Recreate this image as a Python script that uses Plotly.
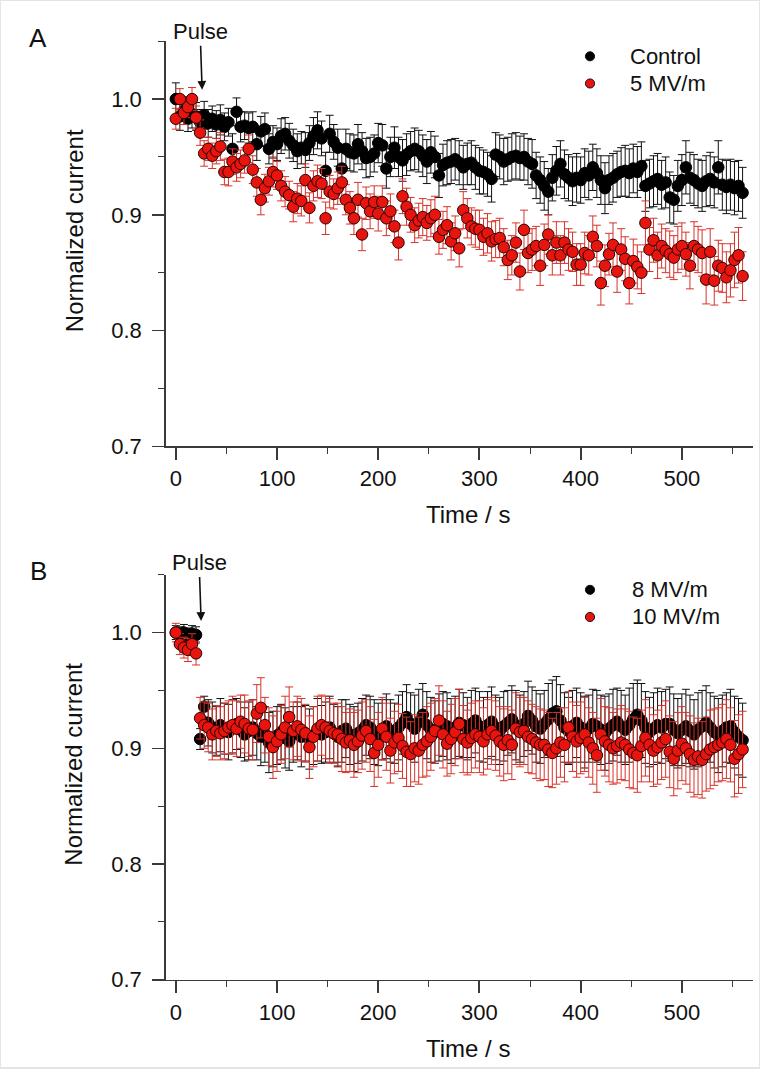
import plotly.graph_objects as go

# ---------------- data (time in s, sampled every 4 s) ----------------
TIME = list(range(0, 561, 4))

CONTROL = [
    1.000, 0.985, 0.990, 0.983, 0.987, 0.985, 0.980, 0.986, 0.979, 0.983,
    0.978, 0.982, 0.976, 0.980, 0.957, 0.989, 0.976, 0.977, 0.975, 0.976,
    0.961, 0.972, 0.974, 0.957, 0.963, 0.961, 0.968, 0.970, 0.964, 0.960,
    0.955, 0.958, 0.956, 0.962, 0.968, 0.973, 0.966, 0.938, 0.970, 0.963,
    0.958, 0.940, 0.957, 0.954, 0.953, 0.961, 0.955, 0.949, 0.950, 0.953,
    0.962, 0.960, 0.940, 0.950, 0.958, 0.950, 0.947, 0.952, 0.955, 0.957,
    0.955, 0.951, 0.946, 0.954, 0.950, 0.934, 0.943, 0.945, 0.946, 0.948,
    0.945, 0.941, 0.944, 0.945, 0.941, 0.938, 0.937, 0.935, 0.931, 0.952,
    0.950, 0.946, 0.948, 0.950, 0.951, 0.949, 0.950, 0.946, 0.944, 0.934,
    0.930, 0.925, 0.920, 0.932, 0.938, 0.944, 0.935, 0.932, 0.929, 0.932,
    0.930, 0.936, 0.934, 0.941, 0.936, 0.930, 0.923, 0.930, 0.932, 0.935,
    0.937, 0.938, 0.936, 0.940, 0.937, 0.942, 0.925, 0.927, 0.929, 0.931,
    0.926, 0.928, 0.915, 0.913, 0.925, 0.930, 0.941, 0.932, 0.930, 0.927,
    0.925, 0.929, 0.931, 0.928, 0.941, 0.926, 0.924, 0.926, 0.923, 0.925,
    0.919,
]
CONTROL_ERR = [
    0.014, 0.012, 0.012, 0.011, 0.012, 0.012, 0.011, 0.012, 0.012, 0.011,
    0.012, 0.013, 0.012, 0.012, 0.013, 0.012, 0.013, 0.012, 0.013, 0.013,
    0.014, 0.013, 0.014, 0.013, 0.014, 0.014, 0.015, 0.014, 0.015, 0.014,
    0.015, 0.014, 0.015, 0.015, 0.016, 0.016, 0.015, 0.016, 0.016, 0.015,
    0.016, 0.016, 0.017, 0.016, 0.016, 0.017, 0.016, 0.017, 0.017, 0.016,
    0.017, 0.018, 0.017, 0.017, 0.018, 0.017, 0.018, 0.018, 0.017, 0.018,
    0.018, 0.018, 0.019, 0.018, 0.018, 0.019, 0.018, 0.019, 0.019, 0.018,
    0.019, 0.019, 0.018, 0.019, 0.019, 0.020, 0.019, 0.019, 0.020, 0.019,
    0.019, 0.020, 0.019, 0.020, 0.020, 0.019, 0.020, 0.020, 0.021, 0.020,
    0.020, 0.021, 0.020, 0.020, 0.021, 0.020, 0.021, 0.020, 0.021, 0.021,
    0.020, 0.021, 0.021, 0.020, 0.021, 0.021, 0.022, 0.021, 0.021, 0.020,
    0.021, 0.022, 0.021, 0.021, 0.022, 0.021, 0.022, 0.021, 0.022, 0.022,
    0.021, 0.022, 0.022, 0.021, 0.022, 0.022, 0.023, 0.022, 0.022, 0.021,
    0.022, 0.022, 0.023, 0.022, 0.023, 0.022, 0.023, 0.022, 0.023, 0.022,
    0.022,
]

MV5 = [
    0.983, 1.000, 0.988, 0.993, 1.000, 0.984, 0.971, 0.953, 0.957, 0.951,
    0.955, 0.959, 0.937, 0.937, 0.946, 0.941, 0.944, 0.947, 0.957, 0.939,
    0.928, 0.913, 0.923, 0.929, 0.937, 0.934, 0.925, 0.920, 0.917, 0.907,
    0.914, 0.912, 0.930, 0.906, 0.925, 0.929, 0.927, 0.897, 0.920, 0.918,
    0.923, 0.928, 0.913, 0.906, 0.897, 0.913, 0.883, 0.910, 0.903, 0.911,
    0.901, 0.911, 0.897, 0.903, 0.890, 0.876, 0.916, 0.907, 0.900, 0.891,
    0.895, 0.898, 0.893, 0.897, 0.900, 0.881, 0.887, 0.891, 0.877, 0.884,
    0.871, 0.904, 0.897, 0.890, 0.888, 0.887, 0.881, 0.884, 0.877, 0.879,
    0.880, 0.872, 0.861, 0.865, 0.876, 0.851, 0.887, 0.867, 0.870, 0.873,
    0.856, 0.874, 0.883, 0.865, 0.876, 0.865, 0.876, 0.870, 0.868, 0.857,
    0.857, 0.867, 0.865, 0.881, 0.873, 0.841, 0.856, 0.866, 0.874, 0.851,
    0.870, 0.862, 0.841, 0.860, 0.855, 0.850, 0.893, 0.870, 0.878, 0.865,
    0.873, 0.869, 0.866, 0.863, 0.870, 0.873, 0.866, 0.856, 0.873, 0.870,
    0.867, 0.844, 0.868, 0.843, 0.856, 0.854, 0.846, 0.852, 0.861, 0.865,
    0.847,
]
MV5_ERR = [
    0.009, 0.009, 0.010, 0.009, 0.010, 0.010, 0.011, 0.011, 0.010, 0.011,
    0.011, 0.012, 0.011, 0.012, 0.011, 0.012, 0.012, 0.011, 0.012, 0.012,
    0.012, 0.013, 0.012, 0.012, 0.013, 0.012, 0.013, 0.013, 0.012, 0.013,
    0.013, 0.013, 0.014, 0.013, 0.013, 0.014, 0.013, 0.014, 0.014, 0.013,
    0.014, 0.014, 0.013, 0.014, 0.014, 0.015, 0.014, 0.014, 0.015, 0.014,
    0.015, 0.014, 0.015, 0.015, 0.014, 0.015, 0.015, 0.016, 0.015, 0.015,
    0.015, 0.016, 0.015, 0.016, 0.016, 0.015, 0.016, 0.016, 0.016, 0.015,
    0.016, 0.016, 0.017, 0.016, 0.016, 0.017, 0.016, 0.017, 0.017, 0.016,
    0.017, 0.016, 0.017, 0.017, 0.017, 0.016, 0.017, 0.017, 0.018, 0.017,
    0.017, 0.018, 0.017, 0.017, 0.018, 0.017, 0.018, 0.018, 0.017, 0.018,
    0.018, 0.018, 0.017, 0.018, 0.018, 0.019, 0.018, 0.018, 0.019, 0.018,
    0.018, 0.019, 0.018, 0.019, 0.019, 0.018, 0.019, 0.019, 0.019, 0.020,
    0.019, 0.019, 0.020, 0.019, 0.020, 0.020, 0.019, 0.020, 0.021, 0.020,
    0.020, 0.021, 0.020, 0.021, 0.022, 0.021, 0.022, 0.023, 0.024, 0.024,
    0.021,
]

MV8 = [
    1.000, 0.999, 1.000, 0.998, 0.999, 0.998, 0.908, 0.936, 0.922, 0.918,
    0.915, 0.920, 0.917, 0.914, 0.919, 0.921, 0.916, 0.912, 0.915, 0.918,
    0.913, 0.910, 0.912, 0.905, 0.908, 0.911, 0.914, 0.909, 0.906, 0.912,
    0.915, 0.910, 0.913, 0.908, 0.911, 0.916, 0.912, 0.914, 0.918, 0.913,
    0.910, 0.915, 0.917, 0.912, 0.908, 0.913, 0.916, 0.920, 0.918, 0.914,
    0.912, 0.916, 0.919, 0.915, 0.913, 0.918, 0.922, 0.927, 0.921, 0.917,
    0.923, 0.929, 0.920, 0.916, 0.914, 0.918, 0.921, 0.919, 0.915, 0.918,
    0.922, 0.920, 0.917, 0.921, 0.924, 0.919, 0.916, 0.920, 0.923, 0.918,
    0.915, 0.919, 0.922, 0.925, 0.920, 0.917, 0.921, 0.928, 0.924, 0.919,
    0.917, 0.921, 0.925, 0.930, 0.932, 0.924, 0.918, 0.915, 0.919, 0.922,
    0.918, 0.914, 0.917, 0.921, 0.919, 0.916, 0.913, 0.917, 0.920, 0.923,
    0.919, 0.916, 0.920, 0.925, 0.929, 0.924, 0.918, 0.914, 0.917, 0.920,
    0.918, 0.921, 0.921, 0.916, 0.913, 0.916, 0.919, 0.915, 0.912, 0.916,
    0.919, 0.922, 0.918, 0.914, 0.911, 0.915, 0.918, 0.919, 0.914, 0.910,
    0.907,
]
MV8_ERR = [
    0.006, 0.006, 0.007, 0.006, 0.007, 0.007, 0.009, 0.009, 0.020, 0.022,
    0.021, 0.023, 0.022, 0.024, 0.023, 0.022, 0.024, 0.023, 0.025, 0.024,
    0.023, 0.025, 0.024, 0.026, 0.024, 0.025, 0.024, 0.026, 0.025, 0.024,
    0.025, 0.026, 0.024, 0.026, 0.025, 0.027, 0.025, 0.026, 0.027, 0.025,
    0.026, 0.027, 0.025, 0.026, 0.028, 0.026, 0.027, 0.026, 0.027, 0.028,
    0.027, 0.026, 0.028, 0.027, 0.026, 0.028, 0.027, 0.028, 0.027, 0.029,
    0.028, 0.027, 0.029, 0.028, 0.027, 0.029, 0.028, 0.029, 0.028, 0.027,
    0.029, 0.028, 0.027, 0.029, 0.028, 0.030, 0.028, 0.029, 0.030, 0.028,
    0.029, 0.030, 0.028, 0.029, 0.030, 0.029, 0.028, 0.030, 0.029, 0.031,
    0.030, 0.029, 0.031, 0.029, 0.030, 0.031, 0.030, 0.029, 0.031, 0.030,
    0.030, 0.031, 0.029, 0.030, 0.031, 0.030, 0.032, 0.030, 0.031, 0.029,
    0.031, 0.030, 0.032, 0.031, 0.030, 0.032, 0.031, 0.030, 0.031, 0.032,
    0.031, 0.030, 0.032, 0.031, 0.030, 0.031, 0.032, 0.031, 0.030, 0.032,
    0.031, 0.032, 0.030, 0.031, 0.032, 0.031, 0.030, 0.032, 0.031, 0.033,
    0.032,
]

MV10 = [
    1.000, 0.990, 0.987, 0.985, 0.990, 0.982, 0.926, 0.920, 0.918, 0.912,
    0.915, 0.913, 0.915, 0.918, 0.920, 0.917, 0.923, 0.921, 0.917, 0.916,
    0.930, 0.935, 0.920, 0.910, 0.901, 0.906, 0.912, 0.918, 0.927, 0.915,
    0.919, 0.916, 0.913, 0.901, 0.910, 0.917, 0.920, 0.918, 0.915, 0.913,
    0.912, 0.908, 0.905, 0.907, 0.903, 0.906, 0.911, 0.915, 0.908, 0.896,
    0.903, 0.917, 0.910, 0.898, 0.905, 0.909, 0.902, 0.897, 0.895, 0.900,
    0.898, 0.903, 0.906, 0.910, 0.915, 0.924, 0.912, 0.904, 0.908, 0.914,
    0.921, 0.908, 0.905, 0.909, 0.912, 0.910, 0.906, 0.912, 0.915, 0.911,
    0.906, 0.903, 0.907, 0.903, 0.917, 0.914, 0.915, 0.910, 0.908, 0.905,
    0.903, 0.903, 0.899, 0.896, 0.900, 0.905, 0.903, 0.918, 0.910, 0.906,
    0.909, 0.912, 0.905, 0.900, 0.894, 0.912, 0.906, 0.903, 0.900, 0.902,
    0.905, 0.903, 0.899, 0.896, 0.894, 0.902, 0.909, 0.903, 0.898, 0.901,
    0.905, 0.908, 0.897, 0.891, 0.898, 0.904, 0.900, 0.895, 0.890, 0.893,
    0.890, 0.895, 0.899, 0.901, 0.903, 0.905, 0.908, 0.903, 0.891, 0.895,
    0.899,
]
MV10_ERR = [
    0.008, 0.009, 0.009, 0.010, 0.009, 0.010, 0.018, 0.020, 0.021, 0.022,
    0.022, 0.023, 0.024, 0.023, 0.025, 0.024, 0.023, 0.025, 0.024, 0.026,
    0.025, 0.026, 0.024, 0.025, 0.027, 0.026, 0.025, 0.027, 0.026, 0.025,
    0.026, 0.027, 0.025, 0.027, 0.026, 0.028, 0.026, 0.027, 0.028, 0.026,
    0.027, 0.028, 0.026, 0.027, 0.028, 0.027, 0.029, 0.027, 0.028, 0.029,
    0.028, 0.027, 0.029, 0.028, 0.027, 0.029, 0.028, 0.030, 0.028, 0.029,
    0.029, 0.028, 0.030, 0.029, 0.028, 0.030, 0.029, 0.028, 0.030, 0.029,
    0.030, 0.029, 0.028, 0.030, 0.029, 0.031, 0.029, 0.030, 0.029, 0.030,
    0.030, 0.031, 0.029, 0.030, 0.031, 0.030, 0.029, 0.031, 0.030, 0.031,
    0.031, 0.030, 0.032, 0.030, 0.031, 0.030, 0.032, 0.031, 0.030, 0.031,
    0.031, 0.032, 0.030, 0.031, 0.032, 0.031, 0.030, 0.032, 0.031, 0.032,
    0.032, 0.031, 0.033, 0.031, 0.032, 0.031, 0.033, 0.032, 0.031, 0.032,
    0.032, 0.033, 0.031, 0.032, 0.033, 0.032, 0.031, 0.033, 0.032, 0.033,
    0.033, 0.032, 0.034, 0.033, 0.032, 0.033, 0.034, 0.032, 0.033, 0.034,
    0.033,
]

PULSE_TIME_A = 26
PULSE_TIME_B = 25
X_TICKS = [0, 100, 200, 300, 400, 500]
Y_TICKS = [0.7, 0.8, 0.9, 1.0]
Y_TICK_TEXT = ["0.7", "0.8", "0.9", "1.0"]

# ---------------- styling ----------------
W, H = 760, 1081
FONT = "Arial, 'Liberation Sans', Helvetica, sans-serif"
BLACK = "#000000"
RED = "#e8150f"
RED_ERR = "#d8332a"
AXIS = "#3a3a3a"

def px_x(p):
    return p / W

def px_y(p):
    return 1 - p / H

fig = go.Figure()

def add_series(x, y, err, xa, ya, fill, edge, errc, name):
    fig.add_trace(go.Scatter(
        x=x, y=y, mode="markers", name=name, xaxis=xa, yaxis=ya,
        showlegend=False,
        marker=dict(size=11.5, color=fill, line=dict(color=edge, width=1)),
        error_y=dict(type="data", array=err, visible=True, color=errc,
                     thickness=1, width=4),
    ))

add_series(TIME, CONTROL, CONTROL_ERR, "x", "y", BLACK, BLACK, "#111111", "Control")
add_series(TIME, MV5, MV5_ERR, "x", "y", RED, "#2a0000", RED_ERR, "5 MV/m")
add_series(TIME, MV8, MV8_ERR, "x2", "y2", BLACK, BLACK, "#111111", "8 MV/m")
add_series(TIME, MV10, MV10_ERR, "x2", "y2", RED, "#2a0000", RED_ERR, "10 MV/m")

xdom = [px_x(165.7), px_x(752.7)]
dom_a = [px_y(451.7), px_y(41.7)]
dom_b = [px_y(991.7), px_y(581.7)]

def xaxis_cfg(anchor):
    return dict(
        domain=xdom, anchor=anchor, range=[-10, 570],
        tickmode="array", tickvals=X_TICKS,
        ticks="outside", ticklen=12, tickwidth=2, tickcolor=AXIS,
        showline=True, linecolor=AXIS, linewidth=1.5,
        showgrid=False, zeroline=False,
        tickfont=dict(family=FONT, size=22, color="#111"),
        minor=dict(ticks="outside", ticklen=6, tickwidth=1, tickcolor=AXIS,
                   tickmode="array", tickvals=[50, 150, 250, 350, 450, 550],
                   showgrid=False),
    )

def yaxis_cfg(anchor, dom):
    return dict(
        domain=dom, anchor=anchor, range=[0.7, 1.05],
        tickmode="array", tickvals=Y_TICKS, ticktext=Y_TICK_TEXT,
        ticks="outside", ticklen=12, tickwidth=1.5, tickcolor=AXIS,
        showline=True, linecolor=AXIS, linewidth=1.5,
        showgrid=False, zeroline=False,
        ticklabelstandoff=6,
        tickfont=dict(family=FONT, size=22, color="#111"),
        minor=dict(ticks="outside", ticklen=6, tickwidth=1, tickcolor=AXIS,
                   tickmode="array", tickvals=[0.75, 0.85, 0.95, 1.05],
                   showgrid=False),
    )

annotations = []
shapes = []

for letter, top, xa, ya, pulse_t, pulse_y, legend_names, leg_text_x in [
    ("A", 0, "x", "y", PULSE_TIME_A, 1.008, ("Control", "5 MV/m"), 628),
    ("B", 540, "x2", "y2", PULSE_TIME_B, 1.010, ("8 MV/m", "10 MV/m"), 630),
]:
    annotations.append(dict(
        text=letter, xref="paper", yref="paper", x=px_x(38), y=px_y(top + 38),
        showarrow=False, xanchor="center", yanchor="middle",
        font=dict(family=FONT, size=26, color="#111")))
    annotations.append(dict(
        text="Pulse", xref=xa, yref=ya, x=pulse_t, y=pulse_y,
        ax=-2, ay=-58, axref="pixel", ayref="pixel",
        showarrow=True, arrowhead=2, arrowsize=1.1, arrowwidth=1.6,
        arrowcolor="#111", font=dict(family=FONT, size=22, color="#111")))
    annotations.append(dict(
        text="Normalized current", xref="paper", yref="paper",
        x=px_x(74), y=px_y(top + 234), textangle=-90, showarrow=False,
        xanchor="center", yanchor="middle",
        font=dict(family=FONT, size=24, color="#111")))
    annotations.append(dict(
        text="Time / s", xref="paper", yref="paper",
        x=px_x(468), y=px_y(top + 521), showarrow=False,
        xanchor="center", yanchor="middle",
        font=dict(family=FONT, size=24, color="#111")))
    # legend
    for i, (nm, fill) in enumerate(zip(legend_names, (BLACK, RED))):
        cy = top + 57 + i * 27.5
        cx = 590
        r = 4.6
        shapes.append(dict(
            type="circle", xref="paper", yref="paper",
            x0=px_x(cx - r), x1=px_x(cx + r), y0=px_y(cy + r), y1=px_y(cy - r),
            fillcolor=fill, line=dict(color="#111", width=1)))
        annotations.append(dict(
            text=nm, xref="paper", yref="paper", x=px_x(leg_text_x),
            y=px_y(cy), showarrow=False, xanchor="left", yanchor="middle",
            font=dict(family=FONT, size=22, color="#111")))

# light frame around the figure
shapes.append(dict(type="rect", xref="paper", yref="paper", x0=0, x1=1, y0=0, y1=1,
                   line=dict(color="#e4e4e4", width=2), fillcolor="rgba(0,0,0,0)"))

fig.update_layout(
    width=W, height=H,
    margin=dict(l=0, r=0, t=0, b=0),
    paper_bgcolor="white", plot_bgcolor="white",
    showlegend=False,
    font=dict(family=FONT, color="#111"),
    xaxis=xaxis_cfg("y"),
    yaxis=yaxis_cfg("x", dom_a),
    xaxis2=xaxis_cfg("y2"),
    yaxis2=yaxis_cfg("x2", dom_b),
    annotations=annotations,
    shapes=shapes,
)

fig.write_html(
    "out.html",
    config={"displayModeBar": False, "staticPlot": True},
    post_script="document.body.style.margin='0';document.body.style.overflow='hidden';",
)
